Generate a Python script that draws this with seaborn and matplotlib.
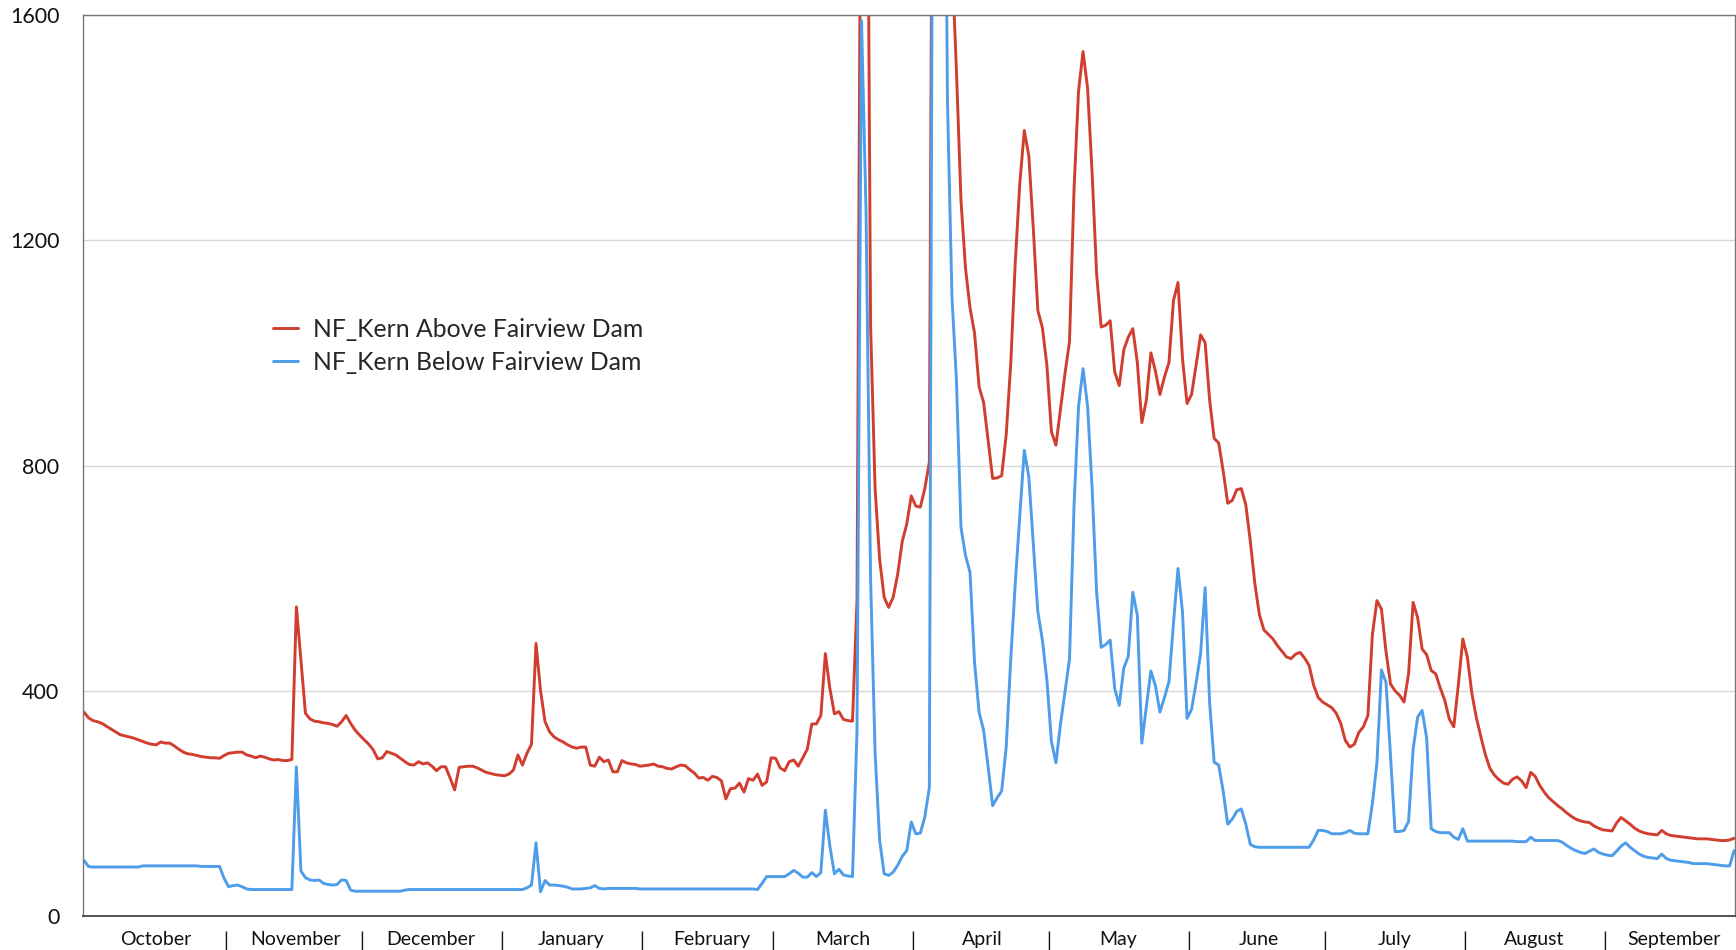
import numpy as np
import pandas as pd
import seaborn as sns
import matplotlib.pyplot as plt

# daily flow, water year Oct..Sep (366 days)
above_fairview = [
    # Oct
    362, 352, 347, 345, 342, 337, 332, 327, 322, 320, 318, 316, 313, 310, 307, 305,
    304, 309, 307, 307, 302, 296, 291, 288, 287, 285, 283, 282, 281, 281, 280,
    # Nov
    285, 289, 290, 291, 291, 286, 284, 281, 284, 282, 279, 277, 278, 276, 276, 278,
    549, 455, 360, 350, 346, 345, 343, 342, 340, 337, 345, 356, 342, 330,
    # Dec
    321, 313, 305, 295, 279, 281, 292, 289, 286, 280, 274, 269, 268, 274, 270, 272,
    266, 258, 265, 265, 245, 224, 264, 265, 266, 266, 263, 259, 255, 253, 251,
    # Jan
    250, 249, 252, 259, 286, 268, 289, 305, 484, 400, 345, 327, 318, 313, 309, 304,
    300, 298, 300, 300, 268, 266, 282, 274, 277, 256, 256, 276, 272, 270, 269,
    # Feb
    266, 267, 268, 270, 266, 265, 262, 261, 265, 268, 267, 260, 254, 245, 246, 241,
    248, 246, 240, 208, 226, 227, 236, 220, 244, 241, 252, 232, 238,
    # Mar
    281, 280, 263, 258, 274, 277, 266, 281, 296, 341, 341, 356, 466, 404, 359, 363,
    349, 347, 346, 561, 2200, 2400, 1050, 759, 634, 566, 548, 566, 607, 665, 696,
    # Apr
    746, 728, 726, 759, 806, 2600, 3100, 3000, 2400, 1700, 1500, 1270, 1150, 1080,
    1035, 940, 912, 845, 777, 778, 782, 855, 980, 1160, 1300, 1395, 1350, 1220, 1075, 1045,
    # May
    978, 860, 836, 900, 963, 1020, 1290, 1465, 1535, 1470, 1320, 1140, 1046, 1049,
    1057, 966, 942, 1005, 1028, 1043, 983, 876, 916, 1000, 968, 926, 957, 983, 1093, 1125, 989,
    # Jun
    910, 926, 978, 1032, 1018, 916, 848, 840, 790, 733, 738, 757, 759, 730, 665, 590,
    535, 508, 500, 492, 480, 470, 460, 457, 465, 468, 458, 445, 410, 388,
    # Jul
    380, 375, 370, 360, 342, 312, 300, 305, 326, 336, 356, 500, 560, 545, 470, 412,
    400, 392, 380, 430, 557, 530, 474, 464, 436, 430, 405, 383, 350, 336, 410,
    # Aug
    492, 460, 395, 352, 318, 286, 262, 250, 242, 236, 234, 243, 247, 240, 228, 255,
    248, 232, 220, 210, 203, 196, 190, 183, 177, 172, 169, 167, 166, 160, 156,
    # Sep
    153, 152, 151, 165, 175, 169, 163, 156, 151, 148, 146, 145, 144, 152, 146, 143,
    142, 141, 140, 139, 138, 137, 137, 137, 136, 135, 134, 134, 135, 138,
]

below_fairview = [
    # Oct
    99, 88, 87, 87, 87, 87, 87, 87, 87, 87, 87, 87, 87, 89, 89, 89,
    89, 89, 89, 89, 89, 89, 89, 89, 89, 89, 88, 88, 88, 88, 88,
    # Nov
    67, 52, 54, 55, 52, 48, 47, 47, 47, 47, 47, 47, 47, 47, 47, 47,
    265, 80, 68, 64, 63, 64, 58, 56, 55, 56, 64, 63, 46, 44,
    # Dec
    44, 44, 44, 44, 44, 44, 44, 44, 44, 44, 46, 47, 47, 47, 47, 47,
    47, 47, 47, 47, 47, 47, 47, 47, 47, 47, 47, 47, 47, 47, 47,
    # Jan
    47, 47, 47, 47, 47, 47, 50, 55, 130, 43, 63, 55, 55, 54, 53, 51,
    48, 48, 48, 49, 50, 54, 49, 48, 49, 49, 49, 49, 49, 49, 49,
    # Feb
    48, 48, 48, 48, 48, 48, 48, 48, 48, 48, 48, 48, 48, 48, 48, 48,
    48, 48, 48, 48, 48, 48, 48, 48, 48, 48, 47, 58, 70,
    # Mar
    70, 70, 70, 70, 75, 81, 76, 69, 69, 77, 70, 77, 188, 124, 75, 83,
    73, 71, 70, 330, 1590, 1250, 600, 290, 135, 75, 72, 78, 90, 106, 116,
    # Apr
    167, 146, 147, 176, 228, 2600, 3000, 2500, 1450, 1100, 950, 690, 640, 610,
    450, 362, 330, 265, 196, 210, 222, 300, 455, 590, 710, 827, 780, 660, 540, 490,
    # May
    419, 310, 272, 340, 398, 456, 728, 905, 972, 905, 760, 575, 477, 482,
    490, 404, 374, 440, 461, 575, 534, 307, 372, 435, 409, 362, 388, 416, 520, 617, 540,
    # Jun
    351, 367, 414, 466, 583, 378, 273, 268, 221, 163, 172, 186, 190, 163, 127, 123,
    122, 122, 122, 122, 122, 122, 122, 122, 122, 122, 122, 122, 135, 152,
    # Jul
    152, 150, 146, 146, 146, 148, 152, 147, 146, 146, 146, 200, 272, 437, 415, 285,
    150, 150, 152, 168, 296, 353, 365, 316, 155, 150, 148, 148, 148, 140, 136,
    # Aug
    155, 133, 133, 133, 133, 133, 133, 133, 133, 133, 133, 133, 132, 132, 132, 140,
    134, 134, 134, 134, 134, 134, 131, 125, 120, 116, 113, 111, 115, 119, 113,
    # Sep
    110, 108, 107, 115, 124, 130, 122, 116, 110, 106, 104, 103, 102, 110, 102, 99,
    98, 97, 96, 95, 93, 93, 93, 93, 92, 91, 90, 89, 89, 116,
]

months = ["October", "November", "December", "January", "February", "March",
          "April", "May", "June", "July", "August", "September"]
month_days = [31, 30, 31, 31, 29, 31, 30, 31, 30, 31, 31, 30]

series_names = ["NF_Kern Above Fairview Dam", "NF_Kern Below Fairview Dam"]
colors = ["#D13D2E", "#4D9DEA"]

days = np.arange(len(above_fairview))
df = pd.concat([
    pd.DataFrame({"day": days, "flow": above_fairview, "site": series_names[0]}),
    pd.DataFrame({"day": days, "flow": below_fairview, "site": series_names[1]}),
])

sns.set_theme(style="white")
plt.rcParams["font.family"] = ["Lato", "DejaVu Sans"]

fig = plt.figure(figsize=(17.36, 9.5), dpi=100)
ax = fig.add_axes([83 / 1736, 1 - 916 / 950, 1652 / 1736, 901 / 950])

sns.lineplot(data=df, x="day", y="flow", hue="site", palette=colors,
             linewidth=2.1, ax=ax)

ax.set_xlim(-0.2, 365.2)
ax.set_ylim(0, 1600)
ax.set_xlabel("")
ax.set_ylabel("")

starts = np.concatenate([[0], np.cumsum(month_days)[:-1]])
ax.set_xticks(starts + 15.8)
ax.set_xticklabels(months, fontsize=14)
ax.set_xticks(starts[1:] + 0.4, minor=True)
ax.set_xticklabels(["|"] * (len(months) - 1), minor=True, fontsize=14)
ax.tick_params(axis="x", which="both", length=0, pad=11, colors="#111111")

ax.set_yticks([0, 400, 800, 1200, 1600])
ax.set_yticklabels(["0", "400", "800", "1200", "1600"], fontsize=15.5)
ax.tick_params(axis="y", length=0, pad=17, colors="#111111")

ax.yaxis.grid(True, color="#d8d8d8", linewidth=1)
ax.xaxis.grid(False)
for side in ["left", "top", "right"]:
    ax.spines[side].set_color("#777777")
    ax.spines[side].set_linewidth(1.0)
ax.spines["bottom"].set_color("#444444")
ax.spines["bottom"].set_linewidth(1.3)

ax.legend(loc="upper left", bbox_to_anchor=(0.115, 0.664), frameon=False,
          fontsize=17.8, handlelength=1.0, handletextpad=0.62, labelspacing=0.4,
          borderpad=0, borderaxespad=0)

fig.savefig("out.png", dpi=100)
